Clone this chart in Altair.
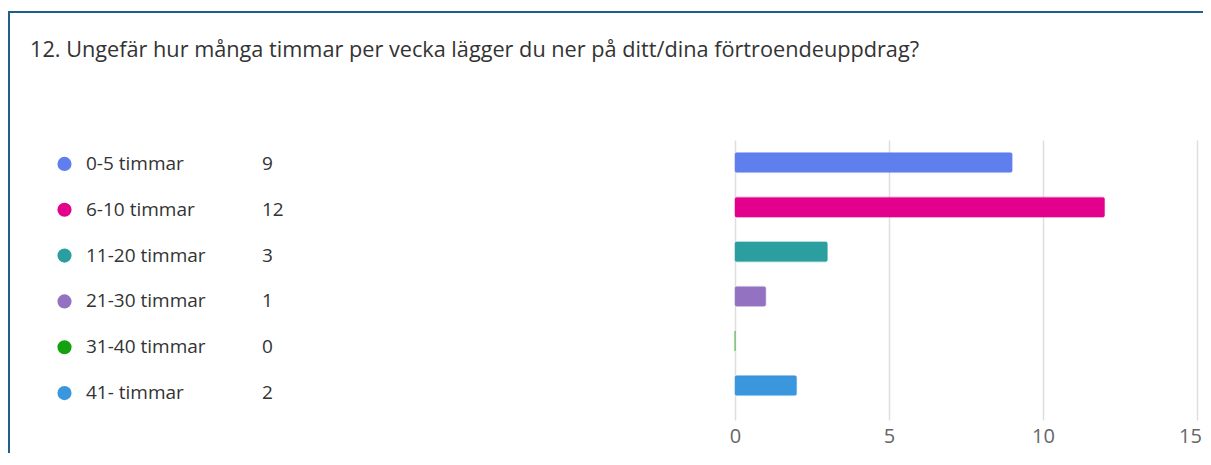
import altair as alt
import pandas as pd

title_text = ["12. Ungefär hur många timmar per vecka lägger du ner på ditt/dina förtroendeuppdrag?"]
categories = ["0-5 timmar", "6-10 timmar", "11-20 timmar", "21-30 timmar", "31-40 timmar", "41- timmar"]
counts = [9, 12, 3, 1, 0, 2]
colors = ["#5f7fef", "#e3008c", "#2b9fa0", "#9373c1", "#13a10e", "#3a96dd"]
x_ticks = [0, 5, 10, 15]

df = pd.DataFrame({"cat": categories, "n": counts, "label": [str(c) for c in counts]})
tdf = pd.DataFrame({"t": title_text})

FONT = "Open Sans"
TEXT_COL = "#333333"

color_scale = alt.Scale(domain=categories, range=colors)

bars = alt.Chart(df).mark_bar(cornerRadius=2, strokeWidth=1, strokeOpacity=0.45).encode(
    x=alt.X("n:Q", scale=alt.Scale(domain=[0, 15], nice=False),
            axis=alt.Axis(values=x_ticks, title=None, domain=False, ticks=False,
                          grid=True, gridColor="#dedede", gridWidth=1.5,
                          labelFontSize=20, labelColor="#666666", labelFont=FONT,
                          labelPadding=6, labelFlush=False,
                          labelOffset={"condition": {"test": "datum.value == 15", "value": -7},
                                       "value": 0})),
    y=alt.Y("cat:N", sort=categories,
            scale=alt.Scale(paddingInner=0.5516, paddingOuter=0.415, align=0.34),
            axis=None),
    color=alt.Color("cat:N", scale=color_scale, legend=None),
    stroke=alt.Color("cat:N", scale=color_scale, legend=None),
)

leg_y = alt.Y("cat:N", sort=categories, scale=alt.Scale(range=[1, 276], paddingInner=0, paddingOuter=0), axis=None)

leg_dots = alt.Chart(df).mark_circle(size=200, opacity=1).encode(
    x=alt.value(-670.5),
    y=leg_y,
    color=alt.Color("cat:N", scale=color_scale, legend=None),
)
leg_labels = alt.Chart(df).mark_text(align="left", baseline="middle", fontSize=19,
                                     font=FONT, color=TEXT_COL).encode(
    x=alt.value(-649), y=leg_y, text="cat:N")
leg_counts = alt.Chart(df).mark_text(align="left", baseline="middle", fontSize=19,
                                     font=FONT, color=TEXT_COL).encode(
    x=alt.value(-473), y=leg_y, text="label:N")

title = alt.Chart(tdf).mark_text(align="left", baseline="middle", fontSize=21.7,
                                 font=FONT, color=TEXT_COL).encode(
    x=alt.value(-705), y=alt.value(-90), text="t:N")

frame_top = alt.Chart(tdf).mark_rule(color="#1f5f8d", strokeWidth=2).encode(
    x=alt.value(-727), x2=alt.value(700), y=alt.value(-128))
frame_left = alt.Chart(tdf).mark_rule(color="#1f5f8d", strokeWidth=2).encode(
    x=alt.value(-726), y=alt.value(-129), y2=alt.value(500))

chart = alt.layer(
    frame_top, frame_left, title, bars, leg_dots, leg_labels, leg_counts
).resolve_scale(y="independent").properties(
    width=462, height=280,
    autosize=alt.AutoSizeParams(type="none"),
    padding={"left": 727, "top": 132, "right": 6, "bottom": 33},
    background="white",
).configure_view(stroke=None)

chart.save("out.html", embed_options={"renderer": "svg", "actions": False})
